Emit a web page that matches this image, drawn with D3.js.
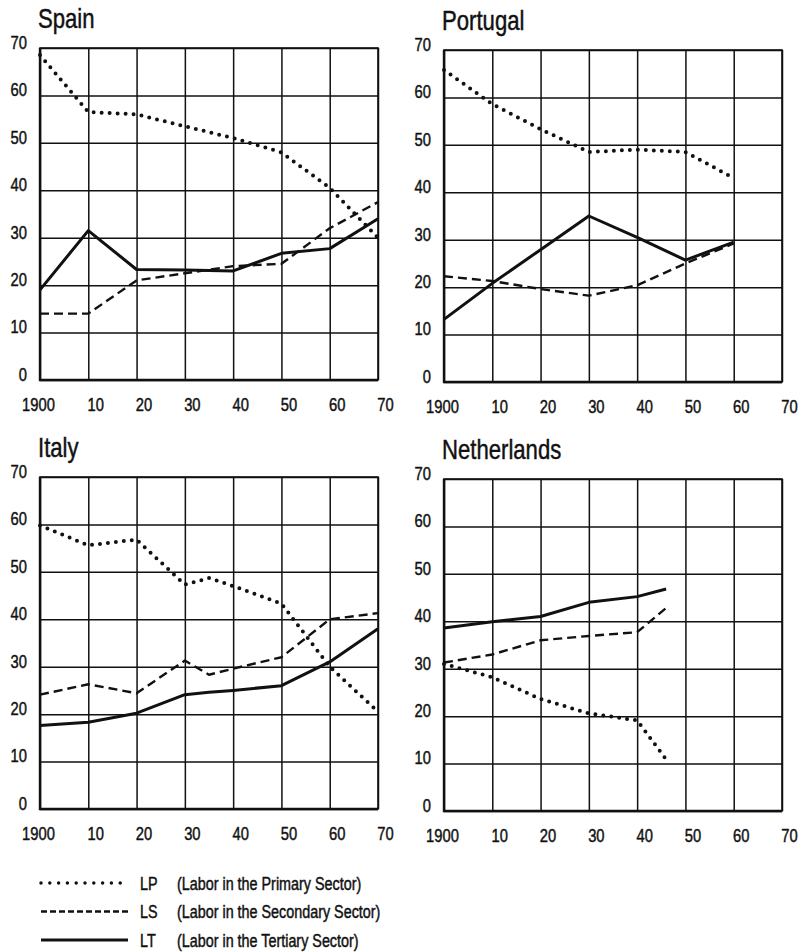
<!DOCTYPE html>
<html>
<head>
<meta charset="utf-8">
<script src="https://cdn.jsdelivr.net/npm/d3@7"></script>
<style>
  body { margin: 0; background: #fff; }
  svg { display: block; }
  text { font-family: "Liberation Sans", Arial, sans-serif; fill: #111; stroke: #111; stroke-width: 0.45px; }
</style>
</head>
<body>
<div id="chart"></div>
<script>
// Labor force share by sector (%)

const seriesKeys = ['LP', 'LS', 'LT'];
const legendLabels = [
    '(Labor in the Primary Sector)',
    '(Labor in the Secondary Sector)',
    '(Labor in the Tertiary Sector)'
];

const spainYears = [1900, 1910, 1920, 1930, 1940, 1950, 1960, 1970];
const spainLP = [68.5, 56.5, 56, 53.5, 51, 48, 40.5, 30];
const spainLS = [14, 14, 21, 22.5, 24, 24.5, 32, 37.5];
const spainLT = [19, 31.5, 23.3, 23.2, 23, 26.7, 27.7, 34];

const portugalYears = [1900, 1910, 1920, 1930, 1940, 1950, 1960];
const portugalLP = [65.8, 58.6, 53.3, 48.5, 49, 48.5, 43];
const portugalLS = [22.3, 21.3, 19.6, 18.2, 20.4, 25, 29.2];
const portugalLT = [13.2, 20.8, 27.9, 35, 30.5, 25.7, 29.5];

const italyYears = [1900, 1910, 1920, 1930, 1935, 1940, 1950, 1960, 1970];
const italyLP = [59.8, 55.6, 56.8, 47.3, 48.7, 47, 43.3, 30, 20.5];
const italyLS = [24.1, 26.3, 24.4, 31.3, 28.3, 29.6, 32, 40, 41.3];
const italyLT = [17.6, 18.3, 20.2, 24.1, 24.6, 25, 26, 31, 38];

const netherlandsYears = [1900, 1910, 1920, 1930, 1940, 1946];
const netherlandsLP = [31, 28.2, 23.6, 20.6, 19.1, 10.9];
const netherlandsLS = [31.3, 33, 36, 36.9, 37.7, 42.8];
const netherlandsLT = [38.6, 39.9, 41, 44, 45.2, 46.8];

const xTicks = [1900, 1910, 1920, 1930, 1940, 1950, 1960, 1970];
const xTickLabels = ['1900', '10', '20', '30', '40', '50', '60', '70'];
const yTicks = [0, 10, 20, 30, 40, 50, 60, 70];

// ----------------------------------------------------------------------------
// layout
// ----------------------------------------------------------------------------
const W = 806, H = 952;
const plotW = 338, plotH = 332;
const SX = 0.82; // horizontal squeeze to imitate the condensed typeface

const panels = [
    { name: 'Spain', left: 40, top: 48, years: spainYears, values: [spainLP, spainLS, spainLT] },
    { name: 'Portugal', left: 444, top: 50, years: portugalYears, values: [portugalLP, portugalLS, portugalLT] },
    { name: 'Italy', left: 40, top: 477, years: italyYears, values: [italyLP, italyLS, italyLT] },
    { name: 'Netherlands', left: 444, top: 479, years: netherlandsYears, values: [netherlandsLP, netherlandsLS, netherlandsLT] }
];

const lineStyle = {
    LP: { width: 4, dash: '0,8', cap: 'round' },
    LS: { width: 2.4, dash: '9,5', cap: 'butt' },
    LT: { width: 3, dash: null, cap: 'butt' }
};

// squeeze text horizontally, keeping its anchor point where it was
function narrow(sel) {
    sel.each(function () {
        const t = d3.select(this);
        const x0 = +t.attr('x') || 0;
        const y0 = +t.attr('y') || 0;
        t.attr('x', 0).attr('y', 0)
            .attr('transform', `translate(${x0},${y0}) scale(${SX},1)`);
    });
}

const svg = d3.select('#chart').append('svg')
    .attr('width', W)
    .attr('height', H);

const x = d3.scaleLinear().domain([1900, 1970]).range([0, plotW]);
const y = d3.scaleLinear().domain([0, 70]).range([plotH, 0]);

panels.forEach(p => {
    const g = svg.append('g').attr('transform', `translate(${p.left},${p.top})`);

    // title
    g.append('text')
        .attr('x', -2)
        .attr('y', -20)
        .style('font-size', '27px')
        .text(p.name)
        .call(narrow);

    // horizontal grid + y labels
    const yAxis = g.append('g')
        .call(d3.axisLeft(y).tickValues(yTicks).tickSize(-plotW).tickPadding(13));
    yAxis.select('.domain').remove();
    yAxis.selectAll('line').attr('stroke', '#111').attr('stroke-width', 1.5);
    yAxis.selectAll('text')
        .attr('dy', '0.02em')
        .style('font-size', '18px')
        .attr('fill', '#111')
        .call(narrow);

    // vertical grid + x labels
    const xAxis = g.append('g')
        .attr('transform', `translate(0,${plotH})`)
        .call(d3.axisBottom(x).tickValues(xTicks).tickSize(-plotH)
            .tickFormat((d, i) => xTickLabels[i]));
    xAxis.select('.domain').remove();
    xAxis.selectAll('line').attr('stroke', '#111').attr('stroke-width', 1.5);
    xAxis.selectAll('text')
        .attr('y', 31)
        .attr('dy', 0)
        .attr('x', (d, i) => i === 0 ? -2 : 7)
        .style('font-size', '18px')
        .attr('fill', '#111')
        .call(narrow);

    // frame, heavier on the left and bottom edges
    g.append('rect')
        .attr('width', plotW)
        .attr('height', plotH)
        .attr('fill', 'none')
        .attr('stroke', '#111')
        .attr('stroke-width', 1.6);
    g.append('path')
        .attr('d', `M0,0V${plotH}H${plotW}`)
        .attr('fill', 'none')
        .attr('stroke', '#111')
        .attr('stroke-width', 2.4);

    // series
    seriesKeys.forEach((k, si) => {
        const pts = p.years.map((yr, i) => [yr, p.values[si][i]]);
        const line = d3.line().x(d => x(d[0])).y(d => y(d[1]));
        const st = lineStyle[k];
        g.append('path')
            .datum(pts)
            .attr('d', line)
            .attr('fill', 'none')
            .attr('stroke', '#111')
            .attr('stroke-width', st.width)
            .attr('stroke-linecap', st.cap)
            .attr('stroke-linejoin', 'round')
            .attr('stroke-dasharray', st.dash);
    });
});

// ----------------------------------------------------------------------------
// legend
// ----------------------------------------------------------------------------
const legendRows = [883, 911.5, 940];
const legend = svg.append('g');
seriesKeys.forEach((k, i) => {
    const st = lineStyle[k];
    const row = legend.append('g').attr('transform', `translate(0,${legendRows[i]})`);
    row.append('line')
        .attr('x1', 41).attr('x2', 128)
        .attr('stroke', '#111')
        .attr('stroke-width', k === 'LP' ? 3.5 : st.width)
        .attr('stroke-linecap', st.cap)
        .attr('stroke-dasharray', k === 'LP' ? '0,8.8' : (k === 'LS' ? '6,3' : null));
    row.append('text')
        .attr('x', 140)
        .attr('y', 6.5)
        .style('font-size', '17.5px')
        .text(k)
        .call(narrow);
    row.append('text')
        .attr('x', 177)
        .attr('y', 6.5)
        .style('font-size', '17.5px')
        .text(legendLabels[i])
        .call(narrow);
});
</script>
</body>
</html>
